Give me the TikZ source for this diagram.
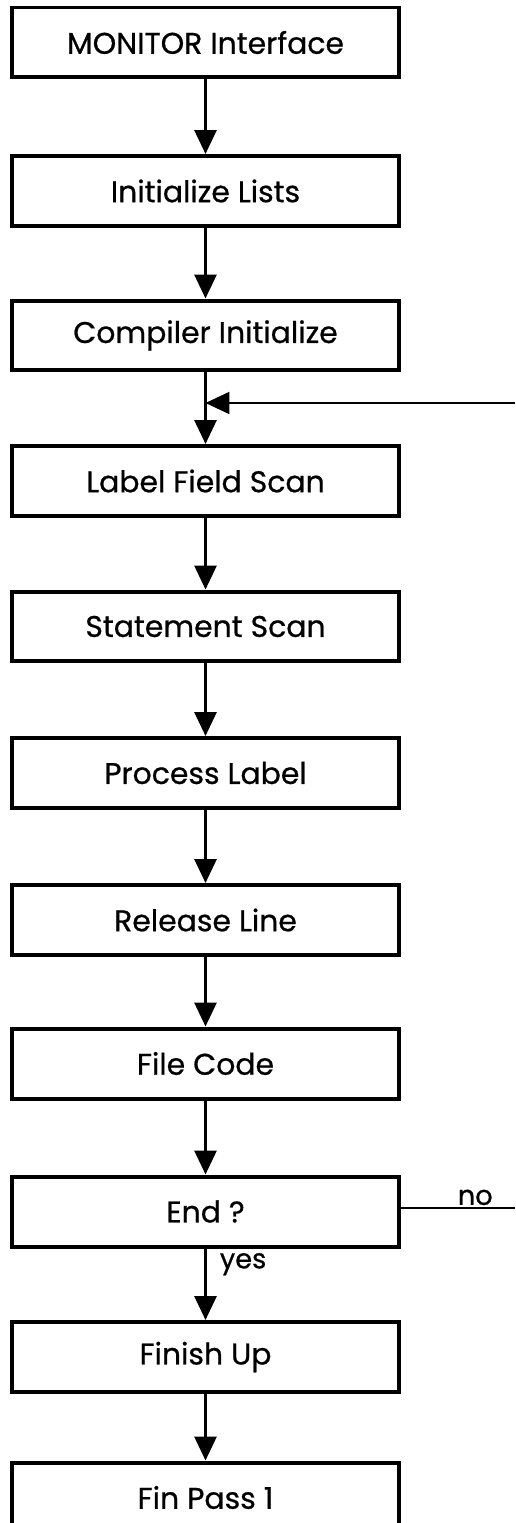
\documentclass[tikz,border=0pt]{standalone}
\usepackage{fontspec}
\setmainfont{Poppins}[FakeBold=0.7]
\usetikzlibrary{arrows.meta}

\begin{document}
\begin{tikzpicture}[ x=0.02cm, y=-0.02cm,
    >={Triangle[length=0.48cm,width=0.44cm]}, stepbox/.style={ draw,
    line width=0.08cm, minimum width=7.76cm, minimum height=1.4cm,
    inner sep=0pt, font=\fontsize{17}{20}\selectfont }, flow/.style={
    ->, line width=0.06cm }, back/.style={ line width=0.045cm },
    tag/.style={ font=\fontsize{15.5}{18}\selectfont } ]
  \useasboundingbox (0,0) rectangle (515,1523);
  \foreach \y/\n/\t in {42.5/mon/MONITOR Interface,191/init/Initialize Lists,
    335.5/comp/Compiler Initialize,481/lbl/Label Field Scan,
    626.5/stmt/Statement Scan,773/proc/Process Label,920/rel/Release Line,
    1063.5/file/File Code,1211.5/endq/End ?,1357/finup/Finish Up,
    1497.5/finp/Fin Pass 1}
  \node[stepbox] (\n) at (205.5,\y) {\t};
  \foreach \a/\b in {mon/init,init/comp,comp/lbl,lbl/stmt,stmt/proc,
    proc/rel,rel/file,file/endq,finup/finp}
  \draw[flow] (\a) -- (\b);
  \draw[flow] (endq) -- node[tag,pos=0.22,right,xshift=4pt] {yes} (finup);
  % loop back from the end test
  \coordinate (noend) at (515,1208);
  \coordinate (backin) at (515,403);
  \coordinate (join) at (205.5,403);
  \draw[back] (endq.east |- noend) -- node[tag,pos=0.65,above,inner sep=1pt] {no} (noend);
  \draw[back,->] (backin) -- (join);
\end{tikzpicture}
\end{document}
